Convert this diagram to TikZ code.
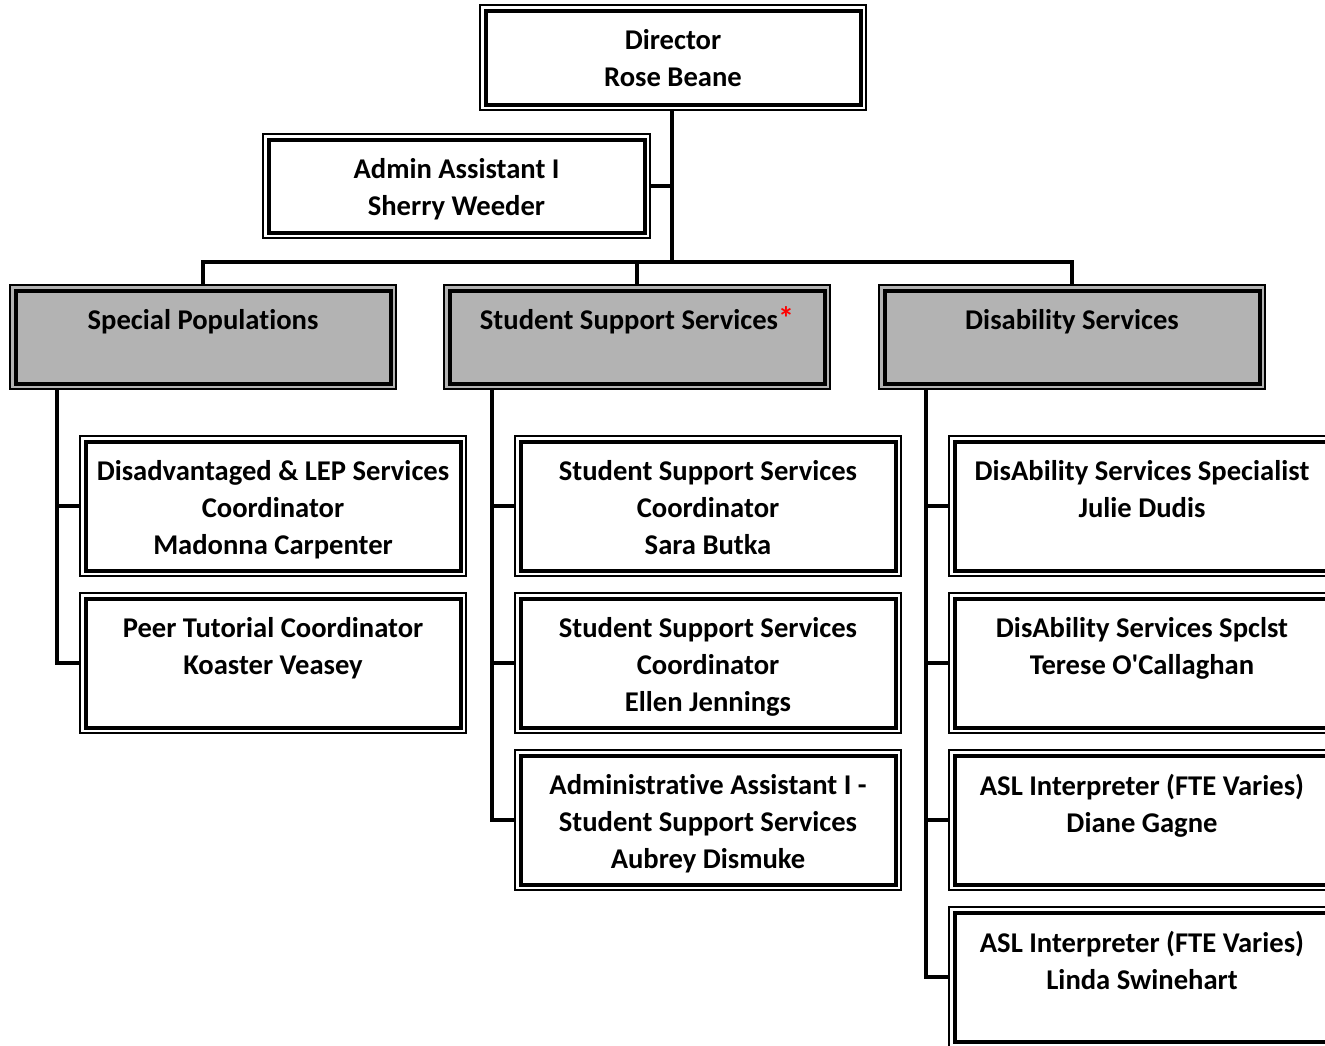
\documentclass[tikz,border=0pt]{standalone}
\usepackage{fontspec}
\setmainfont{Carlito}[Ligatures={NoCommon}]
\usepackage{xcolor}
\definecolor{boxgray}{HTML}{B3B3B3}
\begin{document}
\begin{tikzpicture}[x=1pt,y=-1pt,
  orgbox/.style={draw=black, line width=1.2pt, fill=white, minimum width=386pt, inner sep=0pt, outer sep=0pt,
    path picture={\draw[line width=4pt] ([shift={(5.5pt,-5.5pt)}]path picture bounding box.north west) rectangle ([shift={(-5.5pt,5.5pt)}]path picture bounding box.south east);}},
  topbox/.style={orgbox, minimum height=104pt},
  unitbox/.style={orgbox, minimum height=104pt, fill=boxgray},
  staffbox/.style={orgbox, minimum height=140pt},
  orgtext/.style={anchor=north, align=center, inner sep=0pt, yshift=-24.5pt, font=\fontsize{28.6}{37}\selectfont\bfseries},
  link/.style={draw=black, line width=3.5pt}
]
\clip (0,0) rectangle (1325,1045);
\useasboundingbox (0,0) rectangle (1325,1045);

% top level
\node[topbox, minimum height=105pt] (d) at (673,57.5) {};
\node[orgtext] (dt) at (d.north) {Director\\Rose Beane};
\node[topbox, minimum width=387pt] (a) at (456.5,186) {};
\node[orgtext] (at) at (a.north) {Admin Assistant I\\Sherry Weeder};

% units
\node[unitbox] (sp) at (203,337) {};
\node[orgtext] (spt) at (sp.north) {Special Populations};
\node[unitbox] (ss) at (637,337) {};
\node[orgtext] (sst) at (ss.north) {Student Support Services\smash{\textcolor{red}{\fontsize{32}{37}\selectfont\bfseries *}}};
\node[unitbox] (ds) at (1072,337) {};
\node[orgtext] (dst) at (ds.north) {Disability Services};

% staff left
\node[staffbox] (l1) at (273,506) {};
\node[orgtext] (l1t) at (l1.north) {Disadvantaged \& LEP Services\\Coordinator\\Madonna Carpenter};
\node[staffbox] (l2) at (273,663) {};
\node[orgtext] (l2t) at (l2.north) {Peer Tutorial Coordinator\\Koaster Veasey};

% staff middle
\node[staffbox] (m1) at (708,506) {};
\node[orgtext] (m1t) at (m1.north) {Student Support Services\\Coordinator\\Sara Butka};
\node[staffbox] (m2) at (708,663) {};
\node[orgtext] (m2t) at (m2.north) {Student Support Services\\Coordinator\\Ellen Jennings};
\node[staffbox] (m3) at (708,820) {};
\node[orgtext] (m3t) at (m3.north) {Administrative Assistant I -\\Student Support Services\\Aubrey Dismuke};

% staff right
\node[staffbox] (r1) at (1142,506) {};
\node[orgtext] (r1t) at (r1.north) {DisAbility Services Specialist\\Julie Dudis};
\node[staffbox] (r2) at (1142,663) {};
\node[orgtext] (r2t) at (r2.north) {DisAbility Services Spclst\\Terese O\textquotesingle Callaghan};
\node[staffbox] (r3) at (1142,820) {};
\node[orgtext] (r3t) at (r3.north) {ASL Interpreter (FTE Varies)\\Diane Gagne};
\node[staffbox] (r4) at (1142,977) {};
\node[orgtext] (r4t) at (r4.north) {ASL Interpreter (FTE Varies)\\Linda Swinehart};

% connectors
\coordinate (bar) at (672,262);
\coordinate (lv) at (57,389);
\coordinate (mv) at (492,389);
\coordinate (rv) at (926,389);
\path[link] (d.south -| bar) -- (bar);
\path[link] (a.east) -- (a.east -| bar);
\path[link] (sp.north) |- (bar) -| (ds.north);
\path[link] (ss.north) -- (ss.north |- bar);

\path[link] (lv) |- (l2.west);
\path[link] (lv |- l1.west) -- (l1.west);

\path[link] (mv) |- (m3.west);
\path[link] (mv |- m1.west) -- (m1.west);
\path[link] (mv |- m2.west) -- (m2.west);

\path[link] (rv) |- (r4.west);
\path[link] (rv |- r1.west) -- (r1.west);
\path[link] (rv |- r2.west) -- (r2.west);
\path[link] (rv |- r3.west) -- (r3.west);
\end{tikzpicture}
\end{document}
